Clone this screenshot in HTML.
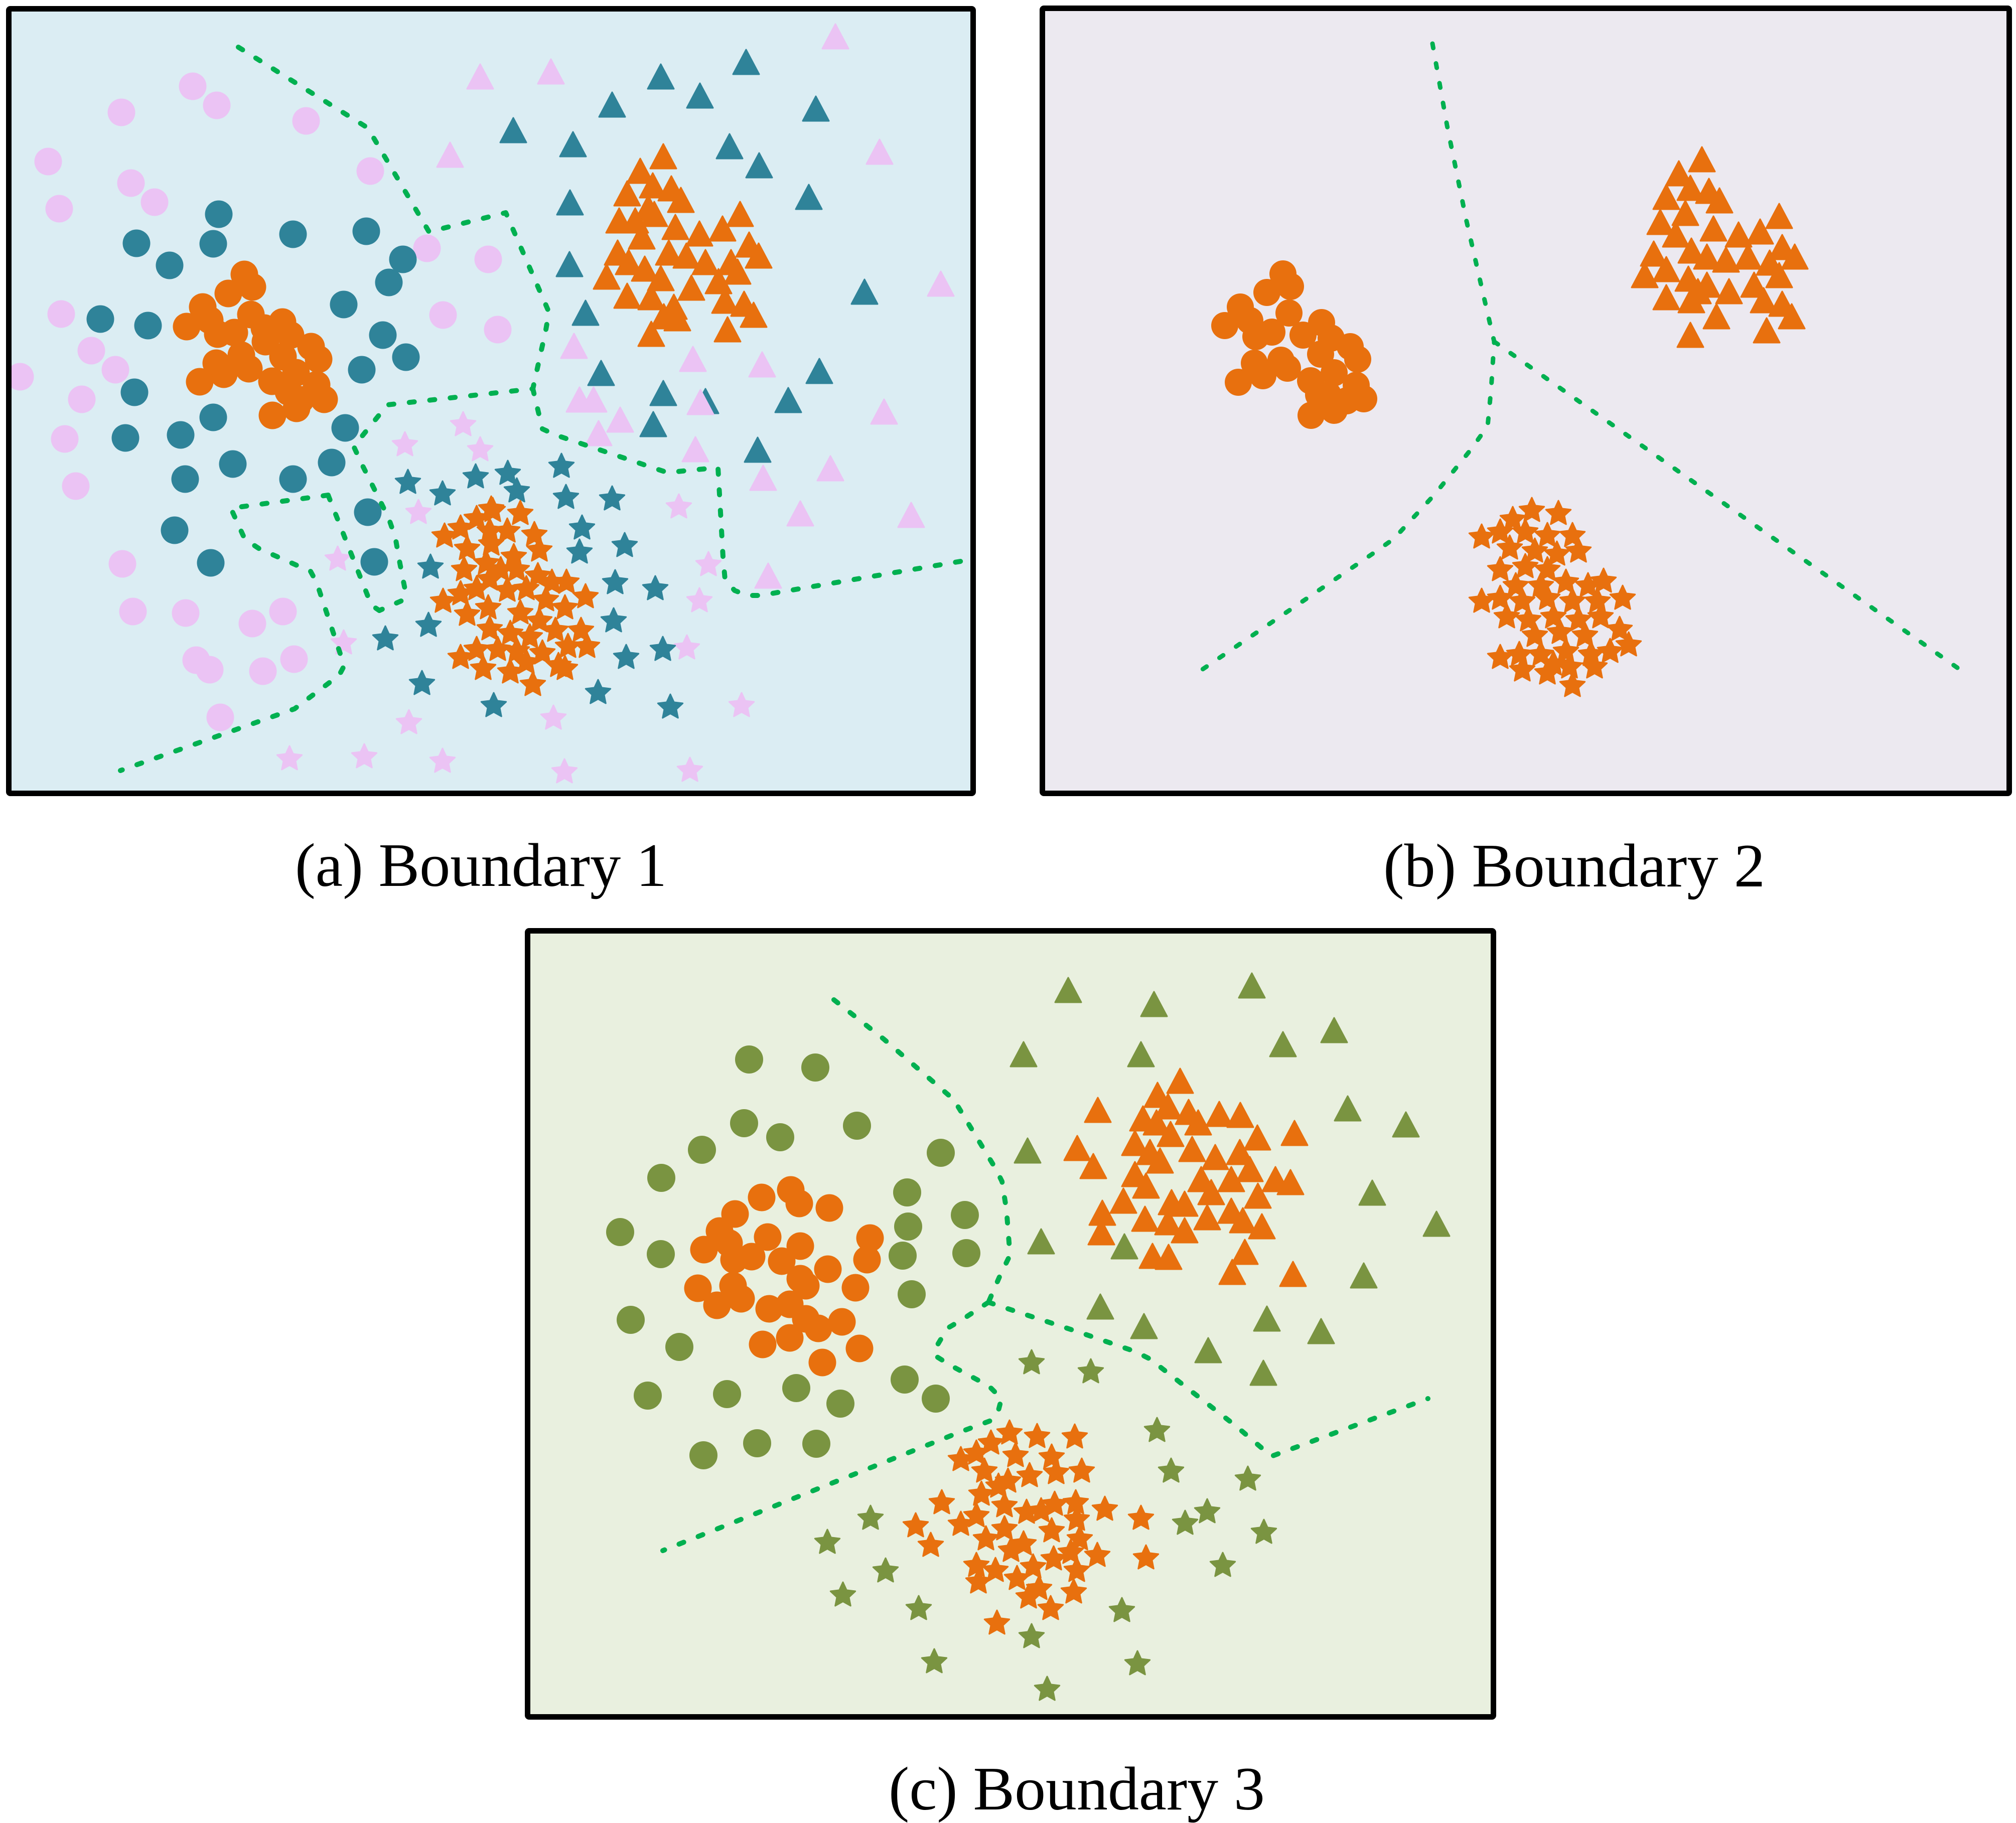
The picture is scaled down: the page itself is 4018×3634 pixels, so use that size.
<!DOCTYPE html>
<html><head><meta charset="utf-8"><style>html,body{margin:0;padding:0;background:#fff}svg{display:block}</style></head>
<body>
<svg xmlns="http://www.w3.org/2000/svg" xmlns:xlink="http://www.w3.org/1999/xlink" width="4018" height="3634" viewBox="0 0 4018 3634">
<defs>
<path id="s" d="M0,-26L7.3,-10.1L24.7,-8L11.9,3.9L15.3,21L0,12.5L-15.3,21L-11.9,3.9L-24.7,-8L-7.3,-10.1Z"/>
<path id="t" d="M0,-25L26,24L-26,24Z"/>
</defs>
<rect width="4018" height="3634" fill="#fff"/>

<!-- ============ PANEL A ============ -->
<rect x="17.5" y="17.5" width="1922" height="1564" fill="#dbedf3"/>
<g fill="#ebc3f4">
<circle cx="384" cy="172" r="27.5"/><circle cx="432" cy="210" r="27.5"/><circle cx="242" cy="224" r="27.5"/><circle cx="610" cy="241" r="27.5"/><circle cx="96" cy="322" r="27.5"/><circle cx="261" cy="365" r="27.5"/><circle cx="308" cy="403" r="27.5"/><circle cx="118" cy="416" r="27.5"/><circle cx="738" cy="341" r="27.5"/><circle cx="851" cy="495" r="27.5"/><circle cx="973" cy="517" r="27.5"/><circle cx="122" cy="626" r="27.5"/><circle cx="182" cy="699" r="27.5"/><circle cx="230" cy="737" r="27.5"/><circle cx="40" cy="751" r="27.5"/><circle cx="163" cy="796" r="27.5"/><circle cx="883" cy="628" r="27.5"/><circle cx="992" cy="657" r="27.5"/><circle cx="129" cy="875" r="27.5"/><circle cx="151" cy="969" r="27.5"/><circle cx="244" cy="1124" r="27.5"/><circle cx="265" cy="1219" r="27.5"/><circle cx="370" cy="1222" r="27.5"/><circle cx="503" cy="1243" r="27.5"/><circle cx="564" cy="1219" r="27.5"/><circle cx="391" cy="1316" r="27.5"/><circle cx="418" cy="1335" r="27.5"/><circle cx="524" cy="1338" r="27.5"/><circle cx="586" cy="1314" r="27.5"/><circle cx="439" cy="1430" r="27.5"/>
</g>
<g fill="#2f8399">
<circle cx="436" cy="427" r="27.5"/><circle cx="272" cy="485" r="27.5"/><circle cx="425" cy="486" r="27.5"/><circle cx="338" cy="529" r="27.5"/><circle cx="584" cy="467" r="27.5"/><circle cx="730" cy="461" r="27.5"/><circle cx="803" cy="517" r="27.5"/><circle cx="775" cy="563" r="27.5"/><circle cx="685" cy="607" r="27.5"/><circle cx="200" cy="636" r="27.5"/><circle cx="295" cy="649" r="27.5"/><circle cx="763" cy="668" r="27.5"/><circle cx="809" cy="712" r="27.5"/><circle cx="721" cy="737" r="27.5"/><circle cx="268" cy="782" r="27.5"/><circle cx="425" cy="832" r="27.5"/><circle cx="250" cy="873" r="27.5"/><circle cx="360" cy="867" r="27.5"/><circle cx="688" cy="853" r="27.5"/><circle cx="464" cy="925" r="27.5"/><circle cx="369" cy="955" r="27.5"/><circle cx="584" cy="955" r="27.5"/><circle cx="661" cy="922" r="27.5"/><circle cx="733" cy="1021" r="27.5"/><circle cx="348" cy="1057" r="27.5"/><circle cx="420" cy="1122" r="27.5"/><circle cx="746" cy="1120" r="27.5"/>
</g>
<g fill="#e8700e">
<circle cx="487" cy="547" r="27.5"/><circle cx="503" cy="572" r="27.5"/><circle cx="455" cy="585" r="27.5"/><circle cx="404" cy="612" r="27.5"/><circle cx="418" cy="638" r="27.5"/><circle cx="372" cy="651" r="27.5"/><circle cx="500" cy="627" r="27.5"/><circle cx="467" cy="663" r="27.5"/><circle cx="434" cy="666" r="27.5"/><circle cx="563" cy="642" r="27.5"/><circle cx="579" cy="668" r="27.5"/><circle cx="527" cy="654" r="27.5"/><circle cx="529" cy="681" r="27.5"/><circle cx="620" cy="691" r="27.5"/><circle cx="635" cy="716" r="27.5"/><circle cx="564" cy="711" r="27.5"/><circle cx="481" cy="708" r="27.5"/><circle cx="431" cy="724" r="27.5"/><circle cx="496" cy="735" r="27.5"/><circle cx="446" cy="746" r="27.5"/><circle cx="398" cy="761" r="27.5"/><circle cx="542" cy="760" r="27.5"/><circle cx="590" cy="743" r="27.5"/><circle cx="631" cy="767" r="27.5"/><circle cx="646" cy="796" r="27.5"/><circle cx="575" cy="781" r="27.5"/><circle cx="599" cy="797" r="27.5"/><circle cx="591" cy="814" r="27.5"/><circle cx="543" cy="828" r="27.5"/>
</g>
<g fill="#2f8399" stroke="#2f8399" stroke-width="3" stroke-linejoin="round">
<use href="#t" x="1487" y="124"/><use href="#t" x="1317" y="153"/><use href="#t" x="1395" y="191"/><use href="#t" x="1220" y="209"/><use href="#t" x="1023" y="260"/><use href="#t" x="1142" y="288"/><use href="#t" x="1626" y="217"/><use href="#t" x="1454" y="292"/><use href="#t" x="1513" y="330"/><use href="#t" x="1136" y="404"/><use href="#t" x="1612" y="393"/><use href="#t" x="1135" y="527"/><use href="#t" x="1723" y="582"/><use href="#t" x="1167" y="624"/><use href="#t" x="1198" y="744"/><use href="#t" x="1633" y="740"/><use href="#t" x="1322" y="784"/><use href="#t" x="1571" y="798"/><use href="#t" x="1302" y="846"/><use href="#t" x="1406" y="800"/><use href="#t" x="1510" y="897"/>
</g>
<g fill="#ebc3f4" stroke="#ebc3f4" stroke-width="3" stroke-linejoin="round">
<use href="#t" x="957" y="153"/><use href="#t" x="897" y="309"/><use href="#t" x="1665" y="73"/><use href="#t" x="1098" y="143"/><use href="#t" x="1753" y="303"/><use href="#t" x="1875" y="566"/><use href="#t" x="1144" y="690"/><use href="#t" x="1381" y="716"/><use href="#t" x="1519" y="727"/><use href="#t" x="1155" y="797"/><use href="#t" x="1183" y="797"/><use href="#t" x="1236" y="837"/><use href="#t" x="1193" y="864"/><use href="#t" x="1396" y="802"/><use href="#t" x="1762" y="821"/><use href="#t" x="1386" y="896"/><use href="#t" x="1655" y="934"/><use href="#t" x="1521" y="953"/><use href="#t" x="1595" y="1024"/><use href="#t" x="1816" y="1027"/><use href="#t" x="1531" y="1148"/>
</g>
<g fill="#e8700e" stroke="#e8700e" stroke-width="3" stroke-linejoin="round">
<use href="#t" x="1322" y="312"/><use href="#t" x="1276" y="341"/><use href="#t" x="1301" y="370"/><use href="#t" x="1250" y="386"/><use href="#t" x="1338" y="376"/><use href="#t" x="1357" y="399"/><use href="#t" x="1292" y="415"/><use href="#t" x="1234" y="440"/><use href="#t" x="1266" y="440"/><use href="#t" x="1304" y="427"/><use href="#t" x="1346" y="453"/><use href="#t" x="1475" y="427"/><use href="#t" x="1440" y="456"/><use href="#t" x="1394" y="466"/><use href="#t" x="1493" y="488"/><use href="#t" x="1512" y="510"/><use href="#t" x="1279" y="472"/><use href="#t" x="1231" y="504"/><use href="#t" x="1333" y="504"/><use href="#t" x="1368" y="510"/><use href="#t" x="1406" y="523"/><use href="#t" x="1457" y="523"/><use href="#t" x="1253" y="523"/><use href="#t" x="1285" y="536"/><use href="#t" x="1209" y="552"/><use href="#t" x="1317" y="555"/><use href="#t" x="1378" y="574"/><use href="#t" x="1432" y="561"/><use href="#t" x="1470" y="542"/><use href="#t" x="1250" y="590"/><use href="#t" x="1298" y="593"/><use href="#t" x="1343" y="612"/><use href="#t" x="1445" y="600"/><use href="#t" x="1483" y="606"/><use href="#t" x="1502" y="628"/><use href="#t" x="1323" y="631"/><use href="#t" x="1298" y="666"/><use href="#t" x="1450" y="657"/><use href="#t" x="1350" y="635"/>
</g>
<g fill="#ebc3f4" stroke="#ebc3f4" stroke-width="3" stroke-linejoin="round">
<use href="#s" x="923" y="847"/><use href="#s" x="807" y="887"/><use href="#s" x="957" y="897"/><use href="#s" x="834" y="1022"/><use href="#s" x="673" y="1115"/><use href="#s" x="685" y="1282"/><use href="#s" x="815" y="1441"/><use href="#s" x="577" y="1513"/><use href="#s" x="726" y="1509"/><use href="#s" x="882" y="1518"/><use href="#s" x="1353" y="1011"/><use href="#s" x="1412" y="1126"/><use href="#s" x="1394" y="1198"/><use href="#s" x="1369" y="1292"/><use href="#s" x="1478" y="1407"/><use href="#s" x="1103" y="1432"/><use href="#s" x="1125" y="1539"/><use href="#s" x="1375" y="1536"/>
</g>
<g fill="#2f8399" stroke="#2f8399" stroke-width="3" stroke-linejoin="round">
<use href="#s" x="813" y="962"/><use href="#s" x="882" y="985"/><use href="#s" x="948" y="951"/><use href="#s" x="1012" y="944"/><use href="#s" x="1030" y="979"/><use href="#s" x="858" y="1131"/><use href="#s" x="854" y="1247"/><use href="#s" x="768" y="1274"/><use href="#s" x="841" y="1363"/><use href="#s" x="984" y="1407"/><use href="#s" x="1119" y="930"/><use href="#s" x="1128" y="992"/><use href="#s" x="1220" y="995"/><use href="#s" x="1160" y="1053"/><use href="#s" x="1155" y="1101"/><use href="#s" x="1245" y="1088"/><use href="#s" x="1226" y="1162"/><use href="#s" x="1306" y="1174"/><use href="#s" x="1223" y="1238"/><use href="#s" x="1321" y="1295"/><use href="#s" x="1248" y="1311"/><use href="#s" x="1192" y="1381"/><use href="#s" x="1336" y="1410"/>
</g>
<g fill="#e8700e" stroke="#e8700e" stroke-width="3" stroke-linejoin="round">
<use href="#s" x="886" y="1069"/><use href="#s" x="918" y="1053"/><use href="#s" x="950" y="1034"/><use href="#s" x="979" y="1015"/><use href="#s" x="931" y="1094"/><use href="#s" x="976" y="1059"/><use href="#s" x="925" y="1136"/><use href="#s" x="969" y="1123"/><use href="#s" x="883" y="1199"/><use href="#s" x="918" y="1184"/><use href="#s" x="950" y="1174"/><use href="#s" x="976" y="1155"/><use href="#s" x="931" y="1225"/><use href="#s" x="973" y="1212"/><use href="#s" x="976" y="1254"/><use href="#s" x="918" y="1311"/><use href="#s" x="950" y="1295"/><use href="#s" x="963" y="1333"/><use href="#s" x="982" y="1018"/><use href="#s" x="1037" y="1024"/><use href="#s" x="1011" y="1059"/><use href="#s" x="1065" y="1066"/><use href="#s" x="1075" y="1097"/><use href="#s" x="979" y="1085"/><use href="#s" x="1024" y="1110"/><use href="#s" x="998" y="1136"/><use href="#s" x="1030" y="1136"/><use href="#s" x="1072" y="1148"/><use href="#s" x="1129" y="1161"/><use href="#s" x="1100" y="1161"/><use href="#s" x="1011" y="1177"/><use href="#s" x="1049" y="1174"/><use href="#s" x="1167" y="1190"/><use href="#s" x="1088" y="1196"/><use href="#s" x="1126" y="1212"/><use href="#s" x="1037" y="1222"/><use href="#s" x="1075" y="1238"/><use href="#s" x="1158" y="1257"/><use href="#s" x="1107" y="1257"/><use href="#s" x="1017" y="1263"/><use href="#s" x="1056" y="1270"/><use href="#s" x="1170" y="1289"/><use href="#s" x="1132" y="1289"/><use href="#s" x="992" y="1295"/><use href="#s" x="1030" y="1298"/><use href="#s" x="1081" y="1302"/><use href="#s" x="1113" y="1327"/><use href="#s" x="1049" y="1321"/><use href="#s" x="1017" y="1340"/><use href="#s" x="1062" y="1365"/><use href="#s" x="1126" y="1333"/>
</g>
<g fill="none" stroke="#00b050" stroke-width="10" stroke-linecap="round" stroke-linejoin="round" stroke-dasharray="10 31">
<polyline points="475,94 733,255 855,462 1008,424 1094,622 1088,657 1062,775 772,807 705,890 721,925 753,989 775,1034 788,1072 797,1123 807,1174 804,1196 756,1217"/>
<polyline points="654,987 460,1013 488,1075 517,1094 619,1139 631,1161 686,1327 676,1346 587,1413 240,1536"/>
<polyline points="654,987 740,1206 756,1217"/>
<polyline points="1062,775 1081,855 1107,867 1330,942 1431,932 1441,1110 1445,1155 1464,1177 1489,1187 1515,1187 1926,1117"/>
</g>
<rect x="17.5" y="17.5" width="1922" height="1564" fill="none" stroke="#000" stroke-width="11" rx="3"/>

<!-- ============ PANEL B ============ -->
<rect x="2077.5" y="16.5" width="1927" height="1565" fill="#ece9f0"/>
<g fill="#e8700e">
<circle cx="2557" cy="546" r="27"/><circle cx="2572" cy="571" r="27"/><circle cx="2525" cy="583" r="27"/><circle cx="2472" cy="612" r="27"/><circle cx="2491" cy="639" r="27"/><circle cx="2441" cy="649" r="27"/><circle cx="2503" cy="671" r="27"/><circle cx="2569" cy="624" r="27"/><circle cx="2535" cy="662" r="27"/><circle cx="2597" cy="668" r="27"/><circle cx="2634" cy="643" r="27"/><circle cx="2653" cy="674" r="27"/><circle cx="2691" cy="691" r="27"/><circle cx="2706" cy="716" r="27"/><circle cx="2632" cy="706" r="27"/><circle cx="2553" cy="718" r="27"/><circle cx="2500" cy="724" r="27"/><circle cx="2566" cy="734" r="27"/><circle cx="2517" cy="749" r="27"/><circle cx="2468" cy="762" r="27"/><circle cx="2612" cy="759" r="27"/><circle cx="2659" cy="743" r="27"/><circle cx="2703" cy="768" r="27"/><circle cx="2718" cy="795" r="27"/><circle cx="2647" cy="787" r="27"/><circle cx="2659" cy="818" r="27"/><circle cx="2613" cy="828" r="27"/><circle cx="2684" cy="799" r="27"/><circle cx="2628" cy="787" r="27"/>
</g>
<g fill="#e8700e" stroke="#e8700e" stroke-width="3" stroke-linejoin="round">
<use href="#t" x="3392" y="318"/><use href="#t" x="3346" y="346"/><use href="#t" x="3406" y="381"/><use href="#t" x="3321" y="393"/><use href="#t" x="3369" y="375"/><use href="#t" x="3427" y="400"/><use href="#t" x="3359" y="425"/><use href="#t" x="3309" y="443"/><use href="#t" x="3546" y="431"/><use href="#t" x="3340" y="468"/><use href="#t" x="3415" y="456"/><use href="#t" x="3465" y="468"/><use href="#t" x="3508" y="462"/><use href="#t" x="3552" y="493"/><use href="#t" x="3577" y="512"/><use href="#t" x="3296" y="506"/><use href="#t" x="3371" y="500"/><use href="#t" x="3402" y="512"/><use href="#t" x="3440" y="518"/><use href="#t" x="3484" y="512"/><use href="#t" x="3527" y="524"/><use href="#t" x="3278" y="549"/><use href="#t" x="3321" y="537"/><use href="#t" x="3365" y="556"/><use href="#t" x="3402" y="568"/><use href="#t" x="3446" y="581"/><use href="#t" x="3496" y="568"/><use href="#t" x="3546" y="549"/><use href="#t" x="3321" y="593"/><use href="#t" x="3371" y="599"/><use href="#t" x="3421" y="631"/><use href="#t" x="3515" y="599"/><use href="#t" x="3552" y="606"/><use href="#t" x="3571" y="631"/><use href="#t" x="3369" y="668"/><use href="#t" x="3521" y="659"/><use href="#t" x="3384" y="581"/>
</g>
<g fill="#e8700e" stroke="#e8700e" stroke-width="3" stroke-linejoin="round">
<use href="#s" x="3053" y="1018"/><use href="#s" x="3106" y="1024"/><use href="#s" x="3015" y="1036"/><use href="#s" x="2953" y="1071"/><use href="#s" x="2990" y="1061"/><use href="#s" x="3040" y="1061"/><use href="#s" x="3084" y="1068"/><use href="#s" x="3134" y="1068"/><use href="#s" x="3009" y="1093"/><use href="#s" x="3059" y="1099"/><use href="#s" x="3146" y="1099"/><use href="#s" x="3103" y="1105"/><use href="#s" x="2990" y="1136"/><use href="#s" x="3040" y="1130"/><use href="#s" x="3084" y="1136"/><use href="#s" x="3021" y="1168"/><use href="#s" x="3071" y="1168"/><use href="#s" x="3121" y="1161"/><use href="#s" x="3165" y="1168"/><use href="#s" x="3196" y="1159"/><use href="#s" x="2953" y="1199"/><use href="#s" x="2990" y="1193"/><use href="#s" x="3034" y="1199"/><use href="#s" x="3084" y="1193"/><use href="#s" x="3134" y="1199"/><use href="#s" x="3184" y="1199"/><use href="#s" x="3234" y="1193"/><use href="#s" x="3003" y="1230"/><use href="#s" x="3046" y="1236"/><use href="#s" x="3096" y="1230"/><use href="#s" x="3146" y="1236"/><use href="#s" x="3190" y="1230"/><use href="#s" x="3059" y="1267"/><use href="#s" x="3109" y="1261"/><use href="#s" x="3159" y="1267"/><use href="#s" x="3228" y="1255"/><use href="#s" x="3246" y="1286"/><use href="#s" x="2990" y="1311"/><use href="#s" x="3028" y="1305"/><use href="#s" x="3071" y="1305"/><use href="#s" x="3121" y="1299"/><use href="#s" x="3171" y="1305"/><use href="#s" x="3209" y="1299"/><use href="#s" x="3034" y="1336"/><use href="#s" x="3084" y="1342"/><use href="#s" x="3128" y="1330"/><use href="#s" x="3178" y="1330"/><use href="#s" x="3134" y="1367"/><use href="#s" x="3096" y="1324"/>
</g>
<g fill="none" stroke="#00b050" stroke-width="9" stroke-linecap="round" stroke-linejoin="round" stroke-dasharray="9 31">
<polyline points="2855,87 2884,250 2922,437 2959,599 2978,681 2972,774 2965,849 2934,893 2859,986 2778,1074 2734,1105 2372,1351"/>
<polyline points="2978,681 3908,1336"/>
</g>
<rect x="2077.5" y="16.5" width="1927" height="1565" fill="none" stroke="#000" stroke-width="11" rx="3"/>

<!-- ============ PANEL C ============ -->
<rect x="1051.5" y="1855.5" width="1925" height="1567" fill="#e9f0df"/>
<g fill="#7a9441">
<circle cx="1493" cy="2112" r="28"/><circle cx="1625" cy="2128" r="28"/><circle cx="1483" cy="2239" r="28"/><circle cx="1555" cy="2267" r="28"/><circle cx="1708" cy="2244" r="28"/><circle cx="1399" cy="2292" r="28"/><circle cx="1875" cy="2298" r="28"/><circle cx="1318" cy="2348" r="28"/><circle cx="1808" cy="2377" r="28"/><circle cx="1923" cy="2422" r="28"/><circle cx="1236" cy="2456" r="28"/><circle cx="1810" cy="2445" r="28"/><circle cx="1317" cy="2500" r="28"/><circle cx="1799" cy="2503" r="28"/><circle cx="1926" cy="2498" r="28"/><circle cx="1817" cy="2580" r="28"/><circle cx="1257" cy="2631" r="28"/><circle cx="1354" cy="2685" r="28"/><circle cx="1803" cy="2750" r="28"/><circle cx="1291" cy="2782" r="28"/><circle cx="1449" cy="2779" r="28"/><circle cx="1587" cy="2767" r="28"/><circle cx="1675" cy="2798" r="28"/><circle cx="1865" cy="2788" r="28"/><circle cx="1402" cy="2901" r="28"/><circle cx="1509" cy="2877" r="28"/><circle cx="1627" cy="2878" r="28"/>
</g>
<g fill="#e8700e">
<circle cx="1518" cy="2387" r="27.5"/><circle cx="1576" cy="2372" r="27.5"/><circle cx="1593" cy="2399" r="27.5"/><circle cx="1653" cy="2408" r="27.5"/><circle cx="1465" cy="2420" r="27.5"/><circle cx="1434" cy="2454" r="27.5"/><circle cx="1453" cy="2478" r="27.5"/><circle cx="1403" cy="2491" r="27.5"/><circle cx="1530" cy="2466" r="27.5"/><circle cx="1595" cy="2484" r="27.5"/><circle cx="1734" cy="2468" r="27.5"/><circle cx="1728" cy="2511" r="27.5"/><circle cx="1463" cy="2511" r="27.5"/><circle cx="1498" cy="2505" r="27.5"/><circle cx="1558" cy="2514" r="27.5"/><circle cx="1650" cy="2530" r="27.5"/><circle cx="1595" cy="2549" r="27.5"/><circle cx="1606" cy="2563" r="27.5"/><circle cx="1461" cy="2563" r="27.5"/><circle cx="1391" cy="2568" r="27.5"/><circle cx="1705" cy="2567" r="27.5"/><circle cx="1477" cy="2589" r="27.5"/><circle cx="1429" cy="2602" r="27.5"/><circle cx="1533" cy="2609" r="27.5"/><circle cx="1574" cy="2600" r="27.5"/><circle cx="1606" cy="2629" r="27.5"/><circle cx="1631" cy="2648" r="27.5"/><circle cx="1678" cy="2635" r="27.5"/><circle cx="1520" cy="2680" r="27.5"/><circle cx="1574" cy="2667" r="27.5"/><circle cx="1713" cy="2688" r="27.5"/><circle cx="1639" cy="2716" r="27.5"/>
</g>
<g fill="#7a9441" stroke="#7a9441" stroke-width="3" stroke-linejoin="round">
<use href="#t" x="2129" y="1974"/><use href="#t" x="2495" y="1965"/><use href="#t" x="2300" y="2002"/><use href="#t" x="2659" y="2054"/><use href="#t" x="2557" y="2082"/><use href="#t" x="2040" y="2102"/><use href="#t" x="2274" y="2102"/><use href="#t" x="2686" y="2210"/><use href="#t" x="2802" y="2242"/><use href="#t" x="2048" y="2294"/><use href="#t" x="2735" y="2378"/><use href="#t" x="2863" y="2440"/><use href="#t" x="2075" y="2475"/><use href="#t" x="2241" y="2485"/><use href="#t" x="2718" y="2543"/><use href="#t" x="2193" y="2605"/><use href="#t" x="2525" y="2629"/><use href="#t" x="2633" y="2654"/><use href="#t" x="2280" y="2644"/><use href="#t" x="2408" y="2692"/><use href="#t" x="2518" y="2737"/>
</g>
<g fill="#e8700e" stroke="#e8700e" stroke-width="3" stroke-linejoin="round">
<use href="#t" x="2352" y="2155"/><use href="#t" x="2307" y="2183"/><use href="#t" x="2188" y="2213"/><use href="#t" x="2278" y="2230"/><use href="#t" x="2328" y="2206"/><use href="#t" x="2369" y="2217"/><use href="#t" x="2388" y="2238"/><use href="#t" x="2430" y="2221"/><use href="#t" x="2472" y="2223"/><use href="#t" x="2333" y="2261"/><use href="#t" x="2305" y="2238"/><use href="#t" x="2506" y="2268"/><use href="#t" x="2580" y="2259"/><use href="#t" x="2147" y="2289"/><use href="#t" x="2262" y="2279"/><use href="#t" x="2292" y="2297"/><use href="#t" x="2376" y="2291"/><use href="#t" x="2422" y="2307"/><use href="#t" x="2471" y="2297"/><use href="#t" x="2312" y="2314"/><use href="#t" x="2179" y="2325"/><use href="#t" x="2262" y="2341"/><use href="#t" x="2284" y="2364"/><use href="#t" x="2394" y="2351"/><use href="#t" x="2414" y="2377"/><use href="#t" x="2454" y="2351"/><use href="#t" x="2491" y="2331"/><use href="#t" x="2507" y="2384"/><use href="#t" x="2542" y="2351"/><use href="#t" x="2572" y="2357"/><use href="#t" x="2239" y="2394"/><use href="#t" x="2335" y="2397"/><use href="#t" x="2361" y="2400"/><use href="#t" x="2197" y="2418"/><use href="#t" x="2282" y="2430"/><use href="#t" x="2328" y="2437"/><use href="#t" x="2361" y="2453"/><use href="#t" x="2406" y="2427"/><use href="#t" x="2454" y="2414"/><use href="#t" x="2477" y="2433"/><use href="#t" x="2515" y="2445"/><use href="#t" x="2195" y="2457"/><use href="#t" x="2297" y="2504"/><use href="#t" x="2329" y="2506"/><use href="#t" x="2481" y="2496"/><use href="#t" x="2456" y="2536"/><use href="#t" x="2577" y="2540"/>
</g>
<g fill="#7a9441" stroke="#7a9441" stroke-width="3" stroke-linejoin="round">
<use href="#s" x="2056" y="2717"/><use href="#s" x="2174" y="2735"/><use href="#s" x="2306" y="2852"/><use href="#s" x="2334" y="2933"/><use href="#s" x="2487" y="2949"/><use href="#s" x="2406" y="3014"/><use href="#s" x="2362" y="3037"/><use href="#s" x="2519" y="3055"/><use href="#s" x="2437" y="3121"/><use href="#s" x="1735" y="3027"/><use href="#s" x="1649" y="3075"/><use href="#s" x="1765" y="3132"/><use href="#s" x="1680" y="3180"/><use href="#s" x="1831" y="3207"/><use href="#s" x="2236" y="3211"/><use href="#s" x="2056" y="3263"/><use href="#s" x="1862" y="3313"/><use href="#s" x="2267" y="3317"/><use href="#s" x="2087" y="3368"/>
</g>
<g fill="#e8700e" stroke="#e8700e" stroke-width="3" stroke-linejoin="round">
<use href="#s" x="2012" y="2857"/><use href="#s" x="2067" y="2864"/><use href="#s" x="2142" y="2865"/><use href="#s" x="1975" y="2877"/><use href="#s" x="1946" y="2897"/><use href="#s" x="1915" y="2910"/><use href="#s" x="2024" y="2902"/><use href="#s" x="2096" y="2905"/><use href="#s" x="1962" y="2933"/><use href="#s" x="2052" y="2942"/><use href="#s" x="2105" y="2936"/><use href="#s" x="2156" y="2933"/><use href="#s" x="2009" y="2953"/><use href="#s" x="1990" y="2963"/><use href="#s" x="1956" y="2979"/><use href="#s" x="1877" y="2996"/><use href="#s" x="2002" y="3002"/><use href="#s" x="2102" y="2999"/><use href="#s" x="2144" y="2996"/><use href="#s" x="2202" y="3009"/><use href="#s" x="2274" y="3027"/><use href="#s" x="1946" y="3022"/><use href="#s" x="2046" y="3015"/><use href="#s" x="2075" y="3012"/><use href="#s" x="1825" y="3042"/><use href="#s" x="1915" y="3039"/><use href="#s" x="2002" y="3048"/><use href="#s" x="2096" y="3052"/><use href="#s" x="2146" y="3029"/><use href="#s" x="1855" y="3081"/><use href="#s" x="1965" y="3068"/><use href="#s" x="2040" y="3078"/><use href="#s" x="2152" y="3068"/><use href="#s" x="2015" y="3091"/><use href="#s" x="2187" y="3101"/><use href="#s" x="2284" y="3106"/><use href="#s" x="2100" y="3108"/><use href="#s" x="2134" y="3095"/><use href="#s" x="1946" y="3121"/><use href="#s" x="1984" y="3131"/><use href="#s" x="2059" y="3124"/><use href="#s" x="2146" y="3131"/><use href="#s" x="1950" y="3154"/><use href="#s" x="2027" y="3147"/><use href="#s" x="2071" y="3167"/><use href="#s" x="2140" y="3174"/><use href="#s" x="2050" y="3184"/><use href="#s" x="2094" y="3207"/><use href="#s" x="1987" y="3236"/>
</g>
<g fill="none" stroke="#00b050" stroke-width="10" stroke-linecap="round" stroke-linejoin="round" stroke-dasharray="10 31">
<polyline points="1662,1993 1761,2071 1901,2192 1984,2329 1997,2355 2006,2412 2013,2502 1993,2543 1970,2596"/>
<polyline points="1970,2596 2000,2606 2152,2656 2262,2694 2292,2709 2465,2844 2534,2903 2846,2788"/>
<polyline points="1970,2596 1920,2629 1888,2648 1869,2680 1863,2702 1895,2722 1971,2763 1996,2788 1990,2811 1977,2831 1915,2854 1321,3091"/>
</g>
<rect x="1051.5" y="1855.5" width="1925" height="1567" fill="none" stroke="#000" stroke-width="11" rx="3"/>

<!-- ============ CAPTIONS ============ -->
<g font-family="'Liberation Serif', 'Times New Roman', serif" font-size="123" fill="#000">
<text x="588" y="1766" textLength="741" lengthAdjust="spacingAndGlyphs">(a) Boundary 1</text>
<text x="2757" y="1767" textLength="761" lengthAdjust="spacingAndGlyphs">(b) Boundary 2</text>
<text x="1771" y="3607" textLength="750" lengthAdjust="spacingAndGlyphs">(c) Boundary 3</text>
</g>
</svg>
</body></html>
